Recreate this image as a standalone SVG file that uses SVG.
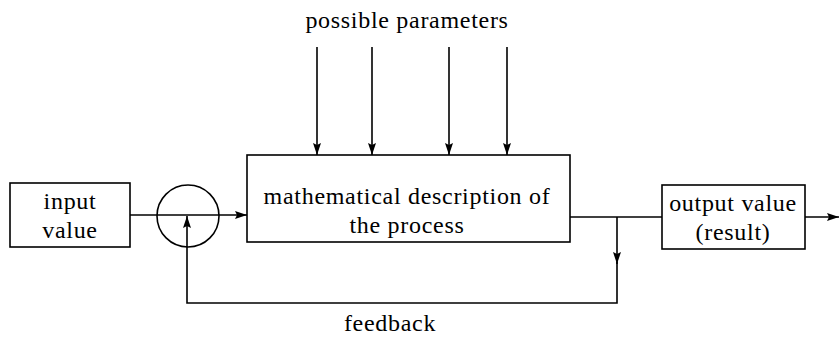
<svg xmlns="http://www.w3.org/2000/svg" width="840" height="337" viewBox="0 0 840 337">
<style>
.box{fill:none;stroke:#000;stroke-width:1.6}
.ln{fill:none;stroke:#000;stroke-width:1.6}
text{font-family:"Liberation Serif","DejaVu Serif",serif;font-size:24px;letter-spacing:0.7px;fill:#000;text-anchor:middle}
</style>
<defs>
<marker id="ah" viewBox="0 0 12 10" refX="12" refY="5" markerWidth="12" markerHeight="10" markerUnits="userSpaceOnUse" orient="auto">
<path d="M0,1 L12,5 L0,9 L2,5 Z" fill="#000"/>
</marker>
</defs>
<rect width="840" height="337" fill="#fff"/>
<g id="input">
<rect class="box" x="10" y="183" width="120" height="64"/>
<text x="70" y="209">input</text>
<text x="70" y="238">value</text>
</g>
<g id="sum">
<circle class="box" cx="188" cy="216" r="31"/>
</g>
<g id="process">
<rect class="box" x="247" y="155" width="323" height="87"/>
<text x="407" y="204">mathematical description of</text>
<text x="407" y="233">the process</text>
</g>
<g id="output">
<rect class="box" x="662" y="185" width="143" height="64"/>
<text x="733" y="211">output value</text>
<text x="733" y="240">(result)</text>
</g>
<g id="params-label">
<text x="407" y="28">possible parameters</text>
</g>
<g id="feedback-label">
<text x="390" y="331">feedback</text>
</g>
<g id="connectors">
<line class="ln" x1="130" y1="215" x2="247" y2="215" marker-end="url(#ah)"/>
<line class="ln" x1="570" y1="217" x2="662" y2="217"/>
<line class="ln" x1="805" y1="217" x2="839" y2="217" marker-end="url(#ah)"/>
<line class="ln" x1="617" y1="217" x2="617" y2="264" marker-end="url(#ah)"/>
<polyline class="ln" points="617,262 617,303 187,303 187,216" marker-end="url(#ah)"/>
<line class="ln" x1="317" y1="47" x2="317" y2="155" marker-end="url(#ah)"/>
<line class="ln" x1="372" y1="47" x2="372" y2="155" marker-end="url(#ah)"/>
<line class="ln" x1="449" y1="47" x2="449" y2="155" marker-end="url(#ah)"/>
<line class="ln" x1="507" y1="47" x2="507" y2="155" marker-end="url(#ah)"/>
</g>
</svg>
